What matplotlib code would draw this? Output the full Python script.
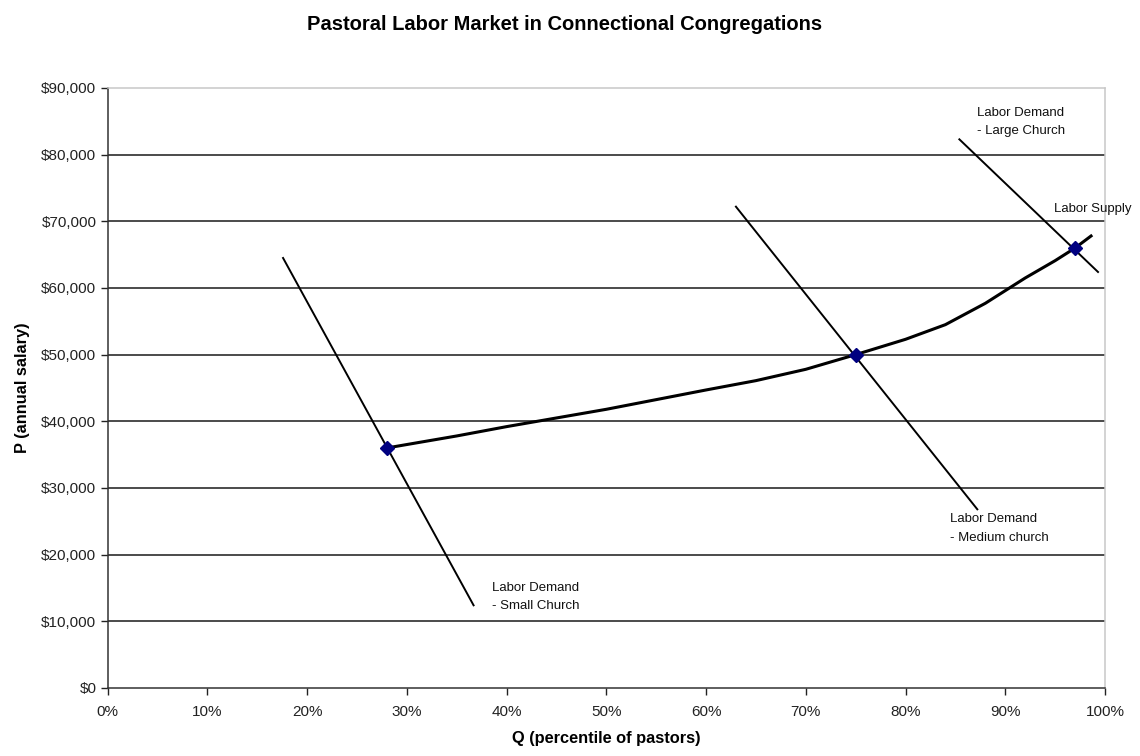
import numpy as np
import matplotlib.pyplot as plt
from matplotlib.ticker import FuncFormatter

plt.rcParams['font.family'] = ['Liberation Sans', 'DejaVu Sans']

# supply curve (percentile, salary)
supply_q = [28, 35, 40, 50, 60, 65, 70, 75, 80, 84, 88, 92, 95, 97, 98.6]
supply_p = [36000, 37800, 39200, 41800, 44700, 46100, 47800, 50000, 52300, 54500, 57700, 61500, 64100, 66000, 67800]

# equilibrium markers
eq_q = [28, 75, 97]
eq_p = [36000, 50000, 66000]

# demand lines, start and end
small_q = [17.6, 36.7]
small_p = [64500, 12400]
medium_q = [63.0, 87.2]
medium_p = [72200, 26800]
large_q = [85.4, 99.3]
large_p = [82300, 62400]

x_ticks = np.arange(0, 101, 10)
y_ticks = np.arange(0, 90001, 10000)

fig = plt.figure(figsize=(11.4, 7.56), dpi=100)
ax = fig.add_axes([0.0943, 0.09, 0.8750, 0.7936])

for y in y_ticks[1:-1]:
	ax.axhline(y, color='#1a1a1a', lw=1.1, zorder=1)

ax.plot(supply_q, supply_p, color='black', lw=2.2, zorder=3, clip_on=False)
ax.plot(small_q, small_p, color='black', lw=1.4, zorder=2)
ax.plot(medium_q, medium_p, color='black', lw=1.4, zorder=2)
ax.plot(large_q, large_p, color='black', lw=1.4, zorder=2)
ax.plot(eq_q, eq_p, linestyle='none', marker='D', ms=7, color='#000080', zorder=4)

lab = dict(fontsize=9.5, color='#111111', va='center', ha='left')
ax.text(38.5, 15000, 'Labor Demand', **lab)
ax.text(38.5, 12300, '- Small Church', **lab)
ax.text(84.5, 25300, 'Labor Demand', **lab)
ax.text(84.5, 22500, '- Medium church', **lab)
ax.text(87.2, 86200, 'Labor Demand', **lab)
ax.text(87.2, 83600, '- Large Church', **lab)
ax.text(94.9, 71800, 'Labor Supply', clip_on=False, **lab)

ax.set_xlim(0, 100)
ax.set_ylim(0, 90000)
ax.set_xticks(x_ticks)
ax.set_yticks(y_ticks)
ax.xaxis.set_major_formatter(FuncFormatter(lambda v, p: '%d%%' % v))
ax.yaxis.set_major_formatter(FuncFormatter(lambda v, p: '${:,.0f}'.format(v)))
ax.tick_params(direction='out', length=5, width=1, labelsize=11, colors='#222222')
ax.tick_params(axis='x', pad=7)
ax.tick_params(axis='y', pad=3)

for s in ['left', 'bottom']:
	ax.spines[s].set_color('#333333')
	ax.spines[s].set_linewidth(1.1)
for s in ['right', 'top']:
	ax.spines[s].set_color('#c8c8c8')
	ax.spines[s].set_linewidth(1.1)

ax.set_xlabel('Q (percentile of pastors)', fontsize=11.8, fontweight='bold', labelpad=9)
ax.set_ylabel('P (annual salary)', fontsize=11.8, fontweight='bold', labelpad=8)
fig.text(0.495, 0.968, 'Pastoral Labor Market in Connectional Congregations',
	ha='center', va='center', fontsize=14.5, fontweight='bold')

fig.savefig('out.png', dpi=100)
